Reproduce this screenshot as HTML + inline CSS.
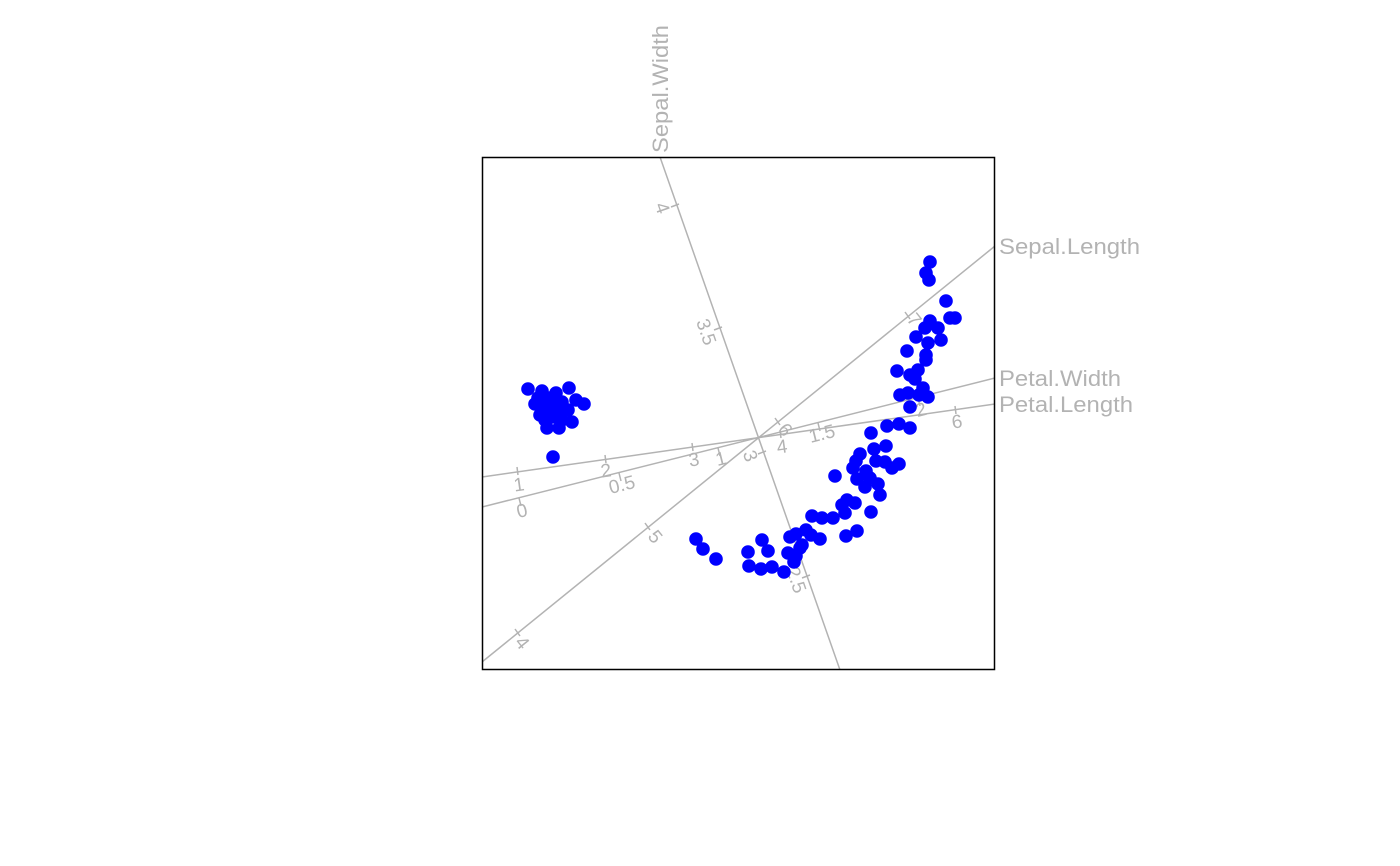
<!DOCTYPE html>
<html><head><meta charset="utf-8"><style>body{margin:0;background:#fff}svg{display:block}</style></head><body>
<svg width="1400" height="866" xmlns="http://www.w3.org/2000/svg" font-family="Liberation Sans, sans-serif">
<defs><clipPath id="c"><rect x="482" y="157" width="513" height="513"/></clipPath></defs>
<g clip-path="url(#c)" stroke="#b3b3b3" stroke-width="1.5" fill="none">
<line x1="660" y1="157" x2="840" y2="670"/>
<line x1="482" y1="662" x2="995" y2="246"/>
<line x1="482" y1="507" x2="995" y2="378"/>
<line x1="482" y1="477" x2="995" y2="404"/>
<path d="M671 207l8-3M714 330l8-3M758 454l8-3M802 578l8-3"/>
<path d="M515 629l5 7M645 523l5 7M905 312l5 7M775 418l5 7"/>
<path d="M517 467l1 8M605 455l1 8M692 443l1 8M780 430l1 8M955 406l1 8"/>
<path d="M519 498l2 8M619 473l2 8M718 448l2 8M818 423l2 8M918 398l2 8"/>
</g>
<g fill="#b3b3b3" font-size="22">
<text transform="translate(668,153) rotate(-90)" textLength="128" lengthAdjust="spacingAndGlyphs">Sepal.Width</text>
<text x="999" y="254" textLength="141" lengthAdjust="spacingAndGlyphs">Sepal.Length</text>
<text x="999" y="386" textLength="122" lengthAdjust="spacingAndGlyphs">Petal.Width</text>
<text x="999" y="412" textLength="134" lengthAdjust="spacingAndGlyphs">Petal.Length</text>
</g>
<g fill="#b3b3b3" font-size="19" text-anchor="middle">
<text transform="translate(662,208) rotate(71)" dy="6">4</text>
<text transform="translate(706,332) rotate(71)" dy="6">3.5</text>
<text transform="translate(750,456) rotate(71)" dy="6">3</text>
<text transform="translate(796,580) rotate(71)" dy="6">2.5</text>
<text transform="translate(522,643) rotate(51)" dy="6">4</text>
<text transform="translate(655,537) rotate(51)" dy="6">5</text>
<text transform="translate(785,430) rotate(51)" dy="6">6</text>
<text transform="translate(914,320) rotate(51)" dy="6">7</text>
<text transform="translate(519,485) rotate(-8)" dy="6">1</text>
<text transform="translate(606,471) rotate(-8)" dy="6">2</text>
<text transform="translate(694,460) rotate(-8)" dy="6">3</text>
<text transform="translate(782,447) rotate(-8)" dy="6">4</text>
<text transform="translate(957,422) rotate(-8)" dy="6">6</text>
<text transform="translate(522,511) rotate(-14)" dy="6">0</text>
<text transform="translate(622,485) rotate(-14)" dy="6">0.5</text>
<text transform="translate(721,459) rotate(-14)" dy="6">1</text>
<text transform="translate(822,434) rotate(-14)" dy="6">1.5</text>
<text transform="translate(921,410) rotate(-14)" dy="6">2</text>
</g>
<rect x="482.5" y="157.5" width="512" height="512" fill="none" stroke="#000" stroke-width="1.5"/>
<g fill="#0000ff">
<circle cx="528" cy="389" r="6.8"/><circle cx="542" cy="391" r="6.8"/><circle cx="556" cy="393" r="6.8"/><circle cx="569" cy="388" r="6.8"/><circle cx="538" cy="398" r="6.8"/><circle cx="550" cy="398" r="6.8"/><circle cx="562" cy="402" r="6.8"/><circle cx="576" cy="400" r="6.8"/><circle cx="584" cy="404" r="6.8"/><circle cx="545" cy="406" r="6.8"/><circle cx="555" cy="408" r="6.8"/><circle cx="568" cy="410" r="6.8"/><circle cx="540" cy="415" r="6.8"/><circle cx="552" cy="417" r="6.8"/><circle cx="572" cy="422" r="6.8"/><circle cx="547" cy="428" r="6.8"/><circle cx="559" cy="428" r="6.8"/><circle cx="553" cy="457" r="6.8"/><circle cx="535" cy="404" r="6.8"/><circle cx="548" cy="412" r="6.8"/><circle cx="560" cy="415" r="6.8"/><circle cx="545" cy="420" r="6.8"/><circle cx="562" cy="420" r="6.8"/>
<circle cx="696" cy="539" r="6.8"/><circle cx="703" cy="549" r="6.8"/><circle cx="716" cy="559" r="6.8"/><circle cx="748" cy="552" r="6.8"/><circle cx="762" cy="540" r="6.8"/><circle cx="768" cy="551" r="6.8"/><circle cx="749" cy="566" r="6.8"/><circle cx="761" cy="569" r="6.8"/><circle cx="772" cy="567" r="6.8"/><circle cx="784" cy="572" r="6.8"/><circle cx="790" cy="537" r="6.8"/><circle cx="796" cy="534" r="6.8"/><circle cx="788" cy="553" r="6.8"/><circle cx="796" cy="556" r="6.8"/><circle cx="802" cy="545" r="6.8"/><circle cx="806" cy="530" r="6.8"/><circle cx="812" cy="516" r="6.8"/><circle cx="822" cy="518" r="6.8"/><circle cx="833" cy="518" r="6.8"/><circle cx="820" cy="539" r="6.8"/><circle cx="811" cy="535" r="6.8"/><circle cx="846" cy="536" r="6.8"/><circle cx="857" cy="531" r="6.8"/><circle cx="835" cy="476" r="6.8"/><circle cx="842" cy="505" r="6.8"/><circle cx="847" cy="500" r="6.8"/><circle cx="855" cy="503" r="6.8"/><circle cx="845" cy="513" r="6.8"/><circle cx="871" cy="512" r="6.8"/><circle cx="871" cy="433" r="6.8"/><circle cx="887" cy="426" r="6.8"/><circle cx="899" cy="424" r="6.8"/><circle cx="910" cy="428" r="6.8"/><circle cx="886" cy="446" r="6.8"/><circle cx="874" cy="449" r="6.8"/><circle cx="860" cy="454" r="6.8"/><circle cx="856" cy="461" r="6.8"/><circle cx="853" cy="468" r="6.8"/><circle cx="857" cy="479" r="6.8"/><circle cx="866" cy="471" r="6.8"/><circle cx="870" cy="478" r="6.8"/><circle cx="878" cy="484" r="6.8"/><circle cx="880" cy="495" r="6.8"/><circle cx="885" cy="462" r="6.8"/><circle cx="892" cy="468" r="6.8"/><circle cx="899" cy="464" r="6.8"/><circle cx="876" cy="461" r="6.8"/><circle cx="865" cy="487" r="6.8"/><circle cx="800" cy="548" r="6.8"/><circle cx="794" cy="562" r="6.8"/>
<circle cx="930" cy="262" r="6.8"/><circle cx="926" cy="273" r="6.8"/><circle cx="929" cy="280" r="6.8"/><circle cx="946" cy="301" r="6.8"/><circle cx="950" cy="318" r="6.8"/><circle cx="955" cy="318" r="6.8"/><circle cx="930" cy="321" r="6.8"/><circle cx="925" cy="328" r="6.8"/><circle cx="938" cy="328" r="6.8"/><circle cx="916" cy="337" r="6.8"/><circle cx="928" cy="343" r="6.8"/><circle cx="941" cy="340" r="6.8"/><circle cx="907" cy="351" r="6.8"/><circle cx="926" cy="355" r="6.8"/><circle cx="926" cy="360" r="6.8"/><circle cx="897" cy="371" r="6.8"/><circle cx="910" cy="375" r="6.8"/><circle cx="918" cy="370" r="6.8"/><circle cx="915" cy="379" r="6.8"/><circle cx="923" cy="388" r="6.8"/><circle cx="900" cy="395" r="6.8"/><circle cx="908" cy="393" r="6.8"/><circle cx="919" cy="395" r="6.8"/><circle cx="928" cy="397" r="6.8"/><circle cx="910" cy="407" r="6.8"/>
</g>
</svg>
</body></html>
